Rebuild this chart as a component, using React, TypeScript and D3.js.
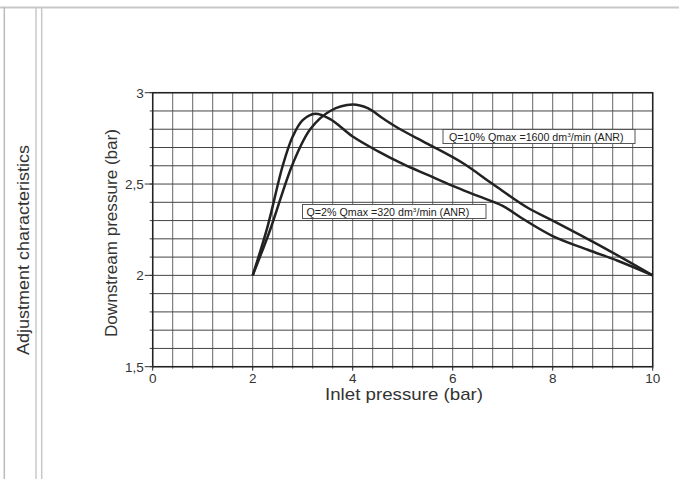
import React from "react";
import * as d3 from "d3";

const xTicks = [0, 2, 4, 6, 8, 10];
const yTicks = [1.5, 2, 2.5, 3];
const yTickLabels = ["1,5", "2", "2,5", "3"];

const q2X = [2, 2.3, 2.6, 2.8, 3.0, 3.25, 3.55, 4.0, 4.5, 5.0, 5.5, 6.0, 6.5, 7.0, 7.4, 8.0, 8.7, 9.3, 10];
const q2Y = [2.0, 2.27, 2.6, 2.76, 2.85, 2.885, 2.855, 2.76, 2.68, 2.61, 2.55, 2.49, 2.435, 2.38, 2.31, 2.215, 2.14, 2.08, 2.0];

const q10X = [2, 2.35, 2.8, 3.15, 3.55, 4.0, 4.3, 4.6, 4.95, 5.5, 6.2, 6.8, 7.5, 8.0, 9.0, 10];
const q10Y = [2.0, 2.25, 2.61, 2.8, 2.9, 2.935, 2.915, 2.86, 2.8, 2.72, 2.615, 2.5, 2.37, 2.3, 2.155, 2.0];

const label2 = "Q=2% Qmax =320 dm";
const label10 = "Q=10% Qmax =1600 dm";

export default function App() {
  const W = 679, H = 479;
  const x = d3.scaleLinear().domain([0, 10]).range([152.7, 652.7]);
  const y = d3.scaleLinear().domain([1.5, 3]).range([366.7, 92.7]);
  const vGrid = d3.range(0, 10.001, 0.4);
  const hGrid = d3.range(1.5, 3.001, 0.1);
  const line = d3
    .line<[number, number]>()
    .x((d) => x(d[0]))
    .y((d) => y(d[1]))
    .curve(d3.curveCatmullRom.alpha(0.5));
  const d2 = line(q2X.map((v, i) => [v, q2Y[i]] as [number, number])) || "";
  const d10 = line(q10X.map((v, i) => [v, q10Y[i]] as [number, number])) || "";
  const font = "'Liberation Sans', Arial, Helvetica, sans-serif";
  const tc = "#333";

  return (
    <svg width={W} height={H} style={{ position: "absolute", left: 0, top: 0, background: "#fff" }} fontFamily={font}>
      <line x1={0} x2={W} y1={7.5} y2={7.5} stroke="#c8c8c8" strokeWidth={2} />
      <line x1={4.3} x2={4.3} y1={7} y2={H} stroke="#bbb" strokeWidth={1.5} />
      <line x1={36} x2={36} y1={7} y2={H} stroke="#c8c8c8" strokeWidth={1.5} />
      <line x1={41.7} x2={41.7} y1={7} y2={H} stroke="#c8c8c8" strokeWidth={1.5} />
      <text transform="translate(29,250) rotate(-90)" textAnchor="middle" fontSize={17} fill={tc}
        textLength={210} lengthAdjust="spacingAndGlyphs">
        Adjustment characteristics
      </text>

      {vGrid.map((v, i) => (
        <line key={"v" + i} x1={x(v)} x2={x(v)} y1={y(3)} y2={y(1.5) + 2} stroke="#666" strokeWidth={1} />
      ))}
      {hGrid.map((v, i) => (
        <line key={"h" + i} x1={x(0) - 3} x2={x(10)} y1={y(v)} y2={y(v)} stroke="#444" strokeWidth={1} />
      ))}
      <rect x={x(0)} y={y(3)} width={x(10) - x(0)} height={y(1.5) - y(3)} fill="none" stroke="#222" strokeWidth={1.5} />

      {yTicks.map((v, i) => (
        <g key={"yt" + i}>
          <line x1={x(0) - 8} x2={x(0)} y1={y(v)} y2={y(v)} stroke="#333" strokeWidth={1} />
          <text x={x(0) - 9} y={y(v) + 5} textAnchor="end" fontSize={13.5} fill={tc}>
            {yTickLabels[i]}
          </text>
        </g>
      ))}
      {xTicks.map((v, i) => (
        <g key={"xt" + i}>
          <line x1={x(v)} x2={x(v)} y1={y(1.5)} y2={y(1.5) + 4} stroke="#333" strokeWidth={1} />
          <text x={x(v)} y={y(1.5) + 16} textAnchor="middle" fontSize={13.5} fill={tc}>
            {v}
          </text>
        </g>
      ))}

      <text transform="translate(117,233) rotate(-90)" textAnchor="middle" fontSize={17} fill={tc}
        textLength={208} lengthAdjust="spacingAndGlyphs">
        Downstream pressure (bar)
      </text>
      <text x={404} y={399.5} textAnchor="middle" fontSize={17} fill={tc}
        textLength={158} lengthAdjust="spacingAndGlyphs">
        Inlet pressure (bar)
      </text>

      <path d={d2} fill="none" stroke="#222" strokeWidth={2.5} strokeLinejoin="round" />
      <path d={d10} fill="none" stroke="#222" strokeWidth={2.5} strokeLinejoin="round" />

      <rect x={302.5} y={204.5} width={183.5} height={14} fill="#fff" stroke="#555" strokeWidth={1} />
      <text transform="translate(306.5,215.8) scale(1.07,1)" fontSize={10} fill="#222">
        {label2}
        <tspan fontSize={6} dy={-4}>3</tspan>
        <tspan dy={4} fontSize={10}>/min (ANR)</tspan>
      </text>

      <rect x={443} y={129.5} width={192} height={14} fill="#fff" stroke="#555" strokeWidth={1} />
      <text transform="translate(449,140.8) scale(1.07,1)" fontSize={10} fill="#222">
        {label10}
        <tspan fontSize={6} dy={-4}>3</tspan>
        <tspan dy={4} fontSize={10}>/min (ANR)</tspan>
      </text>
    </svg>
  );
}
